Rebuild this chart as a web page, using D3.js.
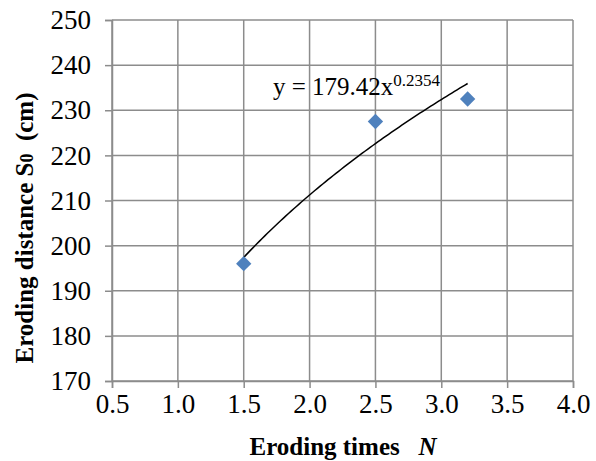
<!DOCTYPE html>
<html><head><meta charset="utf-8">
<script src="https://cdn.jsdelivr.net/npm/d3@7"></script>
<style>body{margin:0;background:#fff}svg{display:block}
svg text{font-family:"Liberation Serif","Times New Roman","DejaVu Serif",serif !important;}</style>
</head><body>
<script>
const xValues = [1.5, 2.5, 3.2];
const yValues = [196, 227.5, 232.5];
const xTicks = [0.5, 1.0, 1.5, 2.0, 2.5, 3.0, 3.5, 4.0];
const yTicks = [170, 180, 190, 200, 210, 220, 230, 240, 250];
const fitA = 179.42, fitB = 0.2354;
const fitRange = [1.5, 3.2];

const W = 596, H = 461;
const svg = d3.select("body").append("svg").attr("width", W).attr("height", H);
const x = d3.scaleLinear().domain([0.5, 4.0]).range([112, 573]);
const y = d3.scaleLinear().domain([170, 250]).range([381, 20]);
const grid = "#8c8c8c";

// grid
svg.append("g").selectAll("line").data(yTicks).join("line")
  .attr("x1", x(0.5)).attr("x2", x(4.0)).attr("y1", d => y(d)).attr("y2", d => y(d))
  .attr("stroke", grid).attr("stroke-width", 1.5);
svg.append("g").selectAll("line").data(xTicks).join("line")
  .attr("y1", y(170)).attr("y2", y(250)).attr("x1", d => x(d)).attr("x2", d => x(d))
  .attr("stroke", grid).attr("stroke-width", 1.5);

// axes
const xAxis = d3.axisBottom(x).tickValues(xTicks).tickFormat(d3.format(".1f")).tickSize(7).tickPadding(6);
const yAxis = d3.axisLeft(y).tickValues(yTicks).tickFormat(d3.format("d")).tickSize(7).tickPadding(14);
const gx = svg.append("g").attr("transform", `translate(0,${y(170)})`).call(xAxis);
const gy = svg.append("g").attr("transform", `translate(${x(0.5)},0)`).call(yAxis);
[gx, gy].forEach(g => {
  g.selectAll("path.domain").attr("stroke", grid).attr("stroke-width", 1.5);
  g.selectAll(".tick line").attr("stroke", grid).attr("stroke-width", 1.5);
  g.selectAll("text").attr("font-size", 27).attr("fill", "#000");
});

// trendline
const fitPts = d3.range(fitRange[0], fitRange[1] + 1e-9, 0.02).map(v => [v, fitA * Math.pow(v, fitB)]);
svg.append("path").datum(fitPts)
  .attr("d", d3.line().x(d => x(d[0])).y(d => y(d[1])))
  .attr("fill", "none").attr("stroke", "#000").attr("stroke-width", 1.5);

// markers
svg.append("g").selectAll("path").data(xValues.map((v, i) => [v, yValues[i]])).join("path")
  .attr("d", d3.symbol(d3.symbolDiamond2, 150))
  .attr("transform", d => `translate(${x(d[0])},${y(d[1])})`)
  .attr("fill", "#4f81bd");

// equation
const eq = svg.append("text").attr("x", 273).attr("y", 95)
  .attr("font-size", 25).attr("fill", "#000");
eq.append("tspan").text("y = 179.42x");
eq.append("tspan").attr("dy", -9).attr("font-size", 17).text("0.2354");

// axis titles
const xt = svg.append("text").attr("x", 343).attr("y", 455).attr("text-anchor", "middle")
  .attr("font-size", 25).attr("font-weight", "bold").attr("fill", "#000");
xt.append("tspan").text("Eroding times\u00a0\u00a0\u00a0");
xt.append("tspan").attr("font-style", "italic").text("N");

const yt = svg.append("text").attr("transform", "translate(33,228) rotate(-90)").attr("text-anchor", "middle")
  .attr("font-size", 25).attr("font-weight", "bold").attr("fill", "#000");
yt.append("tspan").text("Eroding distance S");
yt.append("tspan").attr("font-size", 18).text("0");
yt.append("tspan").text("\u00a0\u00a0(cm)");
</script>
</body></html>
